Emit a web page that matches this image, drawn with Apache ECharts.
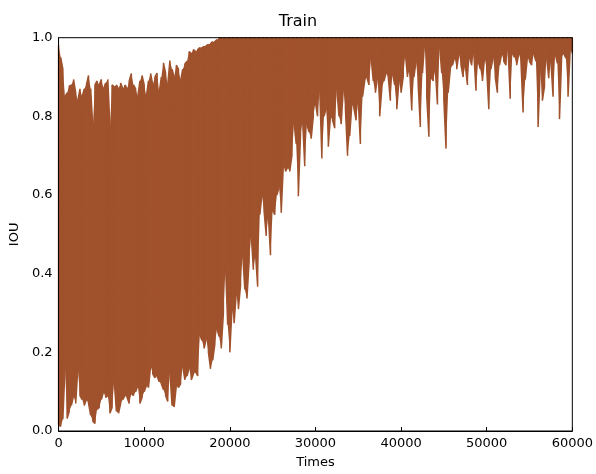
<!DOCTYPE html>
<html>
<head>
<meta charset="utf-8">
<script src="https://cdn.jsdelivr.net/npm/echarts@6/dist/echarts.min.js"></script>
<style>
html,body{margin:0;padding:0;background:#fff;}
#chart{width:596px;height:474px;}
</style>
</head>
<body>
<div id="chart"></div>
<script>
// Training steps are grouped in bins of 250; each bin keeps its max and min IOU.
const binStep = 250;
// Upper envelope (per-bin maximum) of IOU, bins 0..60000
const upperIOU = [
  0.98,0.95,0.92,0.85,0.86,0.877,0.88,0.894,0.86,0.84,
  0.87,0.85,0.87,0.88,0.904,0.87,0.772,0.88,0.89,0.88,
  0.894,0.87,0.885,0.894,0.772,0.88,0.875,0.88,0.87,0.885,
  0.87,0.88,0.87,0.89,0.909,0.88,0.87,0.85,0.89,0.904,
  0.88,0.85,0.89,0.909,0.88,0.90,0.91,0.86,0.90,0.936,
  0.91,0.88,0.942,0.92,0.90,0.93,0.92,0.89,0.92,0.933,
  0.94,0.965,0.96,0.97,0.965,0.97,0.975,0.975,0.978,0.98,
  0.983,0.985,0.99,0.99,0.995,1,1,1,1,1,
  1,1,1,1,1,1,1,1,1,1,
  1,1,1,1,1,1,1,1,1,1,
  1,1,1,1,1,1,1,1,1,1,
  1,1,1,1,1,1,1,1,1,1,
  1,1,1,1,1,1,1,1,1,1,
  1,1,1,1,1,1,1,1,1,1,
  1,1,1,1,1,1,1,1,1,1,
  1,1,1,1,1,1,1,1,1,1,
  1,1,1,1,1,1,1,1,1,1,
  1,1,1,1,1,1,1,1,1,1,
  1,1,1,1,1,1,1,1,1,1,
  1,1,1,1,1,1,1,1,1,1,
  1,1,1,1,1,1,1,1,1,1,
  1,1,1,1,1,1,1,1,1,1,
  1,1,1,1,1,1,1,1,1,1,
  1,1,1,1,1,1,1,1,1,1,
  1
];
// Lower envelope (per-bin minimum) of IOU, bins 0..60000
const lowerIOU = [
  0.015,0.012,0.03,0.16,0.032,0.05,0.065,0.09,0.07,0.158,
  0.09,0.08,0.065,0.08,0.07,0.04,0.025,0.019,0.055,0.06,
  0.08,0.10,0.085,0.09,0.045,0.06,0.128,0.05,0.045,0.07,
  0.08,0.09,0.085,0.07,0.095,0.09,0.10,0.115,0.07,0.085,
  0.10,0.115,0.11,0.166,0.145,0.135,0.14,0.125,0.12,0.105,
  0.09,0.075,0.15,0.065,0.061,0.115,0.11,0.12,0.165,0.13,
  0.14,0.16,0.13,0.145,0.15,0.14,0.245,0.23,0.21,0.235,
  0.20,0.158,0.18,0.22,0.26,0.24,0.21,0.30,0.42,0.27,
  0.20,0.31,0.274,0.35,0.31,0.37,0.45,0.36,0.337,0.43,
  0.50,0.41,0.45,0.367,0.55,0.60,0.56,0.496,0.55,0.447,
  0.56,0.55,0.60,0.62,0.555,0.676,0.66,0.67,0.66,0.70,
  0.785,0.73,0.597,0.75,0.79,0.673,0.78,0.76,0.743,0.80,
  0.835,0.80,0.87,0.693,0.80,0.82,0.723,0.80,0.79,0.77,
  0.87,0.80,0.78,0.87,0.82,0.70,0.75,0.83,0.82,0.79,
  0.84,0.73,0.85,0.89,0.90,0.88,0.95,0.89,0.86,0.90,
  0.80,0.87,0.89,0.91,0.90,0.84,0.91,0.88,0.818,0.89,
  0.86,0.90,0.96,0.90,0.92,0.815,0.90,0.94,0.88,0.773,
  0.91,0.99,0.85,0.748,0.90,0.89,0.92,0.83,0.98,0.91,
  0.84,0.718,0.86,0.92,0.93,0.95,0.92,0.96,0.93,0.90,
  0.93,0.88,0.95,0.93,0.96,0.865,0.94,0.92,0.89,0.95,
  0.92,0.818,0.92,0.95,0.90,0.86,0.93,0.96,0.94,0.93,
  0.97,0.845,0.96,0.95,0.93,0.96,0.94,0.81,0.893,0.95,
  0.94,0.93,0.96,0.94,0.773,0.92,0.84,0.876,0.95,0.897,
  0.94,0.85,0.96,0.935,0.793,0.95,0.96,0.948,0.85,0.97,
  0.96
];
const xMin = 0, xMax = 60000, xTickStep = 10000;
const yMin = 0, yMax = 1, yTickStep = 0.2;

const binTimes = lowerIOU.map((v, i) => i * binStep);
const upperPts = binTimes.map((t, i) => [t, upperIOU[i]]);
const lowerPts = binTimes.map((t, i) => [t, lowerIOU[i]]);

// Min/max decimated trace: a vertical stroke per bin, joined alternately at top and bottom.
const traceData = [];
binTimes.forEach((t, i) => {
  if (i % 2 === 0) { traceData.push(upperPts[i]); traceData.push(lowerPts[i]); }
  else { traceData.push(lowerPts[i]); traceData.push(upperPts[i]); }
});

const color = '#A0522D';
const font = 'DejaVu Sans';

const chart = echarts.init(document.getElementById('chart'), null, {renderer: 'canvas'});
chart.setOption({
  animation: false,
  backgroundColor: '#fff',
  title: {
    text: 'Train', left: 'center', top: 9,
    textStyle: {fontFamily: font, fontSize: 16, fontWeight: 'normal', color: '#000'}
  },
  grid: {left: 58, right: 23.5, top: 37.7, bottom: 38, show: true, z: 10,
    borderColor: '#000', borderWidth: 1, backgroundColor: 'transparent'},
  xAxis: {
    type: 'value', min: xMin, max: xMax, interval: xTickStep, z: 10,
    name: 'Times', nameLocation: 'middle', nameGap: 25,
    nameTextStyle: {fontFamily: font, fontSize: 13, color: '#000'},
    axisLine: {show: true, lineStyle: {color: '#000', width: 1}},
    axisTick: {show: true, inside: true, length: 4, lineStyle: {color: '#000'}},
    axisLabel: {fontFamily: font, fontSize: 13, color: '#000', margin: 6,
      formatter: v => String(v)},
    splitLine: {show: false}
  },
  yAxis: {
    type: 'value', min: yMin, max: yMax, interval: yTickStep,
    name: 'IOU', nameLocation: 'middle', nameGap: 35,
    nameTextStyle: {fontFamily: font, fontSize: 13, color: '#000'},
    axisLine: {show: true, lineStyle: {color: '#000', width: 1}},
    axisTick: {show: false},
    axisLabel: {fontFamily: font, fontSize: 13, color: '#000', margin: 6,
      formatter: v => v.toFixed(1)},
    splitLine: {show: false}
  },
  series: [
    {
      type: 'custom',
      name: 'IOU range',
      data: [[0, 0]],
      clip: true,
      silent: true,
      z: 1,
      renderItem: function (params, api) {
        const pts = [];
        upperPts.forEach(p => pts.push(api.coord(p)));
        for (let i = lowerPts.length - 1; i >= 0; i--) pts.push(api.coord(lowerPts[i]));
        return {type: 'polygon', shape: {points: pts}, style: {fill: color}};
      }
    },
    {
      type: 'line',
      name: 'IOU',
      data: traceData,
      showSymbol: false,
      clip: true,
      z: 2,
      lineStyle: {color: color, width: 1.5},
      itemStyle: {color: color}
    }
  ]
});
</script>
</body>
</html>
